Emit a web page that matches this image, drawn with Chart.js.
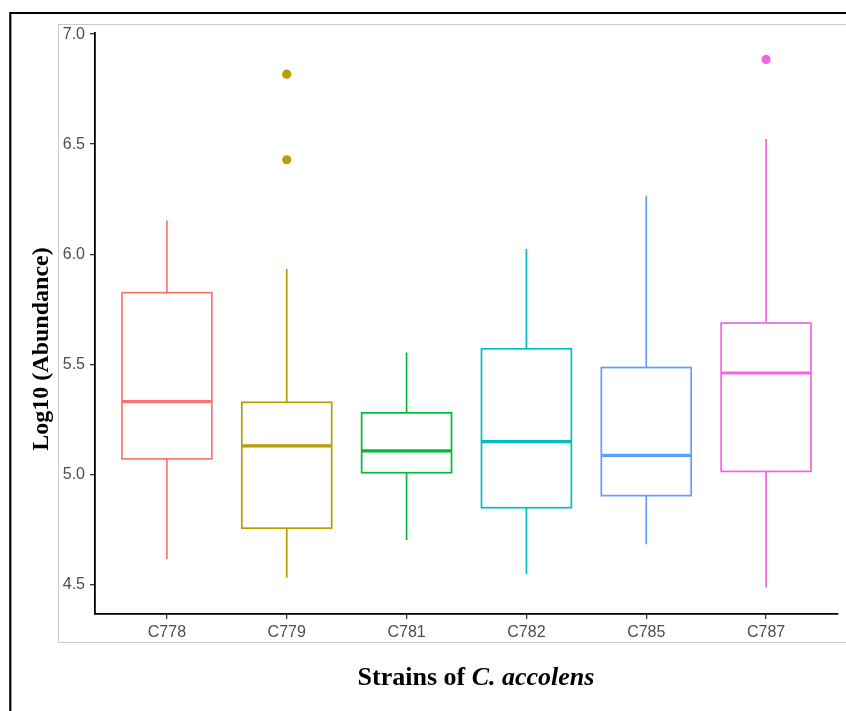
<!DOCTYPE html>
<html>
<head>
<meta charset="utf-8">
<title>Log10 (Abundance) by strain</title>
<script src="https://cdn.jsdelivr.net/npm/chart.js@4/dist/chart.umd.min.js"></script>
<style>
  html, body { margin: 0; padding: 0; background: #fff; }
  canvas { display: block; }
</style>
</head>
<body>
<canvas id="c" width="846" height="711"></canvas>
<script>
// Strains and their box-plot summaries (log10 abundance)
const categories   = ['C778', 'C779', 'C781', 'C782', 'C785', 'C787'];
const whiskerLow   = [4.614, 4.530, 4.701, 4.547, 4.682, 4.485];
const q1           = [5.070, 4.755, 5.007, 4.848, 4.903, 5.013];
const median       = [5.330, 5.129, 5.106, 5.148, 5.086, 5.460];
const q3           = [5.825, 5.327, 5.279, 5.570, 5.485, 5.687];
const whiskerHigh  = [6.153, 5.933, 5.553, 6.024, 6.265, 6.523];
const outliers     = [[], [6.818, 6.429], [], [], [], [6.885]];
const colors       = ['#F8766D', '#B79F00', '#00BA38', '#00BFC4', '#619CFF', '#F564E3'];
const yTicks       = [4.5, 5.0, 5.5, 6.0, 6.5, 7.0];

const BOX_HALF = 0.375;

// Outlier points, one colour per strain
const outlierPoints = [];
const outlierColors = [];
outliers.forEach((vals, i) => {
  vals.forEach(v => { outlierPoints.push({ x: i, y: v }); outlierColors.push(colors[i]); });
});

// Page frame and panel border behind the plot
const framePlugin = {
  id: 'frame',
  beforeDraw(chart) {
    const ctx = chart.ctx;
    ctx.save();
    ctx.fillStyle = '#fff';
    ctx.fillRect(0, 0, chart.width, chart.height);
    ctx.strokeStyle = '#000';
    ctx.lineWidth = 2.2;
    ctx.beginPath();
    ctx.moveTo(10.3, chart.height + 2);
    ctx.lineTo(10.3, 13);
    ctx.lineTo(chart.width + 2, 13);
    ctx.stroke();
    ctx.strokeStyle = '#cacaca';
    ctx.lineWidth = 1;
    ctx.strokeRect(58.5, 24.5, chart.width + 20, 618);
    ctx.restore();
  }
};

// Whiskers, boxes and medians placed through the chart's scales
const boxPlugin = {
  id: 'boxes',
  beforeDatasetsDraw(chart) {
    const ctx = chart.ctx;
    const xs = chart.scales.x, ys = chart.scales.y;
    ctx.save();
    categories.forEach((c, i) => {
      const cx = xs.getPixelForValue(i);
      const left = xs.getPixelForValue(i - BOX_HALF);
      const right = xs.getPixelForValue(i + BOX_HALF);
      const yLo = ys.getPixelForValue(whiskerLow[i]);
      const yQ1 = ys.getPixelForValue(q1[i]);
      const yMed = ys.getPixelForValue(median[i]);
      const yQ3 = ys.getPixelForValue(q3[i]);
      const yHi = ys.getPixelForValue(whiskerHigh[i]);
      ctx.strokeStyle = colors[i];
      ctx.lineCap = 'butt';
      ctx.lineWidth = 1.7;
      ctx.beginPath();
      ctx.moveTo(cx, yHi); ctx.lineTo(cx, yQ3);
      ctx.moveTo(cx, yQ1); ctx.lineTo(cx, yLo);
      ctx.stroke();
      ctx.fillStyle = '#fff';
      ctx.fillRect(left, yQ3, right - left, yQ1 - yQ3);
      ctx.strokeRect(left, yQ3, right - left, yQ1 - yQ3);
      ctx.lineWidth = 3.2;
      ctx.beginPath();
      ctx.moveTo(left, yMed); ctx.lineTo(right, yMed);
      ctx.stroke();
    });
    ctx.restore();
  }
};

// Axis titles (mixed bold / bold-italic on x)
const titlePlugin = {
  id: 'titles',
  afterDraw(chart) {
    const ctx = chart.ctx;
    ctx.save();
    ctx.fillStyle = '#000';
    ctx.textBaseline = 'alphabetic';
    const f1 = 'bold 26px "Liberation Serif", "Times New Roman", serif';
    const f2 = 'italic bold 26px "Liberation Serif", "Times New Roman", serif';
    const a = 'Strains of ', b = 'C. accolens';
    ctx.font = f1; const wa = ctx.measureText(a).width;
    ctx.font = f2; const wb = ctx.measureText(b).width;
    const x0 = 476 - (wa + wb) / 2;
    ctx.font = f1; ctx.textAlign = 'left'; ctx.fillText(a, x0, 685);
    ctx.font = f2; ctx.fillText(b, x0 + wa, 685);

    ctx.translate(48, 349);
    ctx.rotate(-Math.PI / 2);
    ctx.font = 'bold 24px "Liberation Serif", "Times New Roman", serif';
    ctx.textAlign = 'center';
    ctx.fillText('Log10 (Abundance)', 0, 0);
    ctx.restore();
  }
};

const tickFont = { family: '"Liberation Sans", Arial, sans-serif', size: 16 };

new Chart(document.getElementById('c'), {
  type: 'scatter',
  data: {
    datasets: [{
      data: outlierPoints,
      pointRadius: 4.6,
      pointBorderWidth: 0,
      pointBackgroundColor: outlierColors,
      pointBorderColor: outlierColors
    }]
  },
  options: {
    responsive: false,
    devicePixelRatio: 1,
    animation: false,
    layout: { padding: { top: 33, right: 8, left: 0, bottom: 0 } },
    plugins: { legend: { display: false }, tooltip: { enabled: false } },
    scales: {
      x: {
        type: 'linear',
        min: -0.6,
        max: categories.length - 0.4,
        afterBuildTicks(s) { s.ticks = categories.map((c, i) => ({ value: i })); },
        afterFit(s) { s.height = 97; },
        ticks: {
          callback: v => categories[v],
          color: '#4D4D4D',
          font: tickFont,
          padding: 4,
          autoSkip: false,
          maxRotation: 0
        },
        grid: { drawOnChartArea: false, drawTicks: true, tickLength: 5, color: '#333', lineWidth: 1.3 },
        border: { display: true, color: '#000', width: 1.8 }
      },
      y: {
        type: 'linear',
        min: 4.365,
        max: 7.005,
        afterBuildTicks(s) { s.ticks = yTicks.map(v => ({ value: v })); },
        afterFit(s) { s.width = 95; },
        ticks: {
          callback: v => Number(v).toFixed(1),
          color: '#4D4D4D',
          font: tickFont,
          padding: 5
        },
        grid: { drawOnChartArea: false, drawTicks: true, tickLength: 5, color: '#333', lineWidth: 1.3 },
        border: { display: true, color: '#000', width: 1.8 }
      }
    }
  },
  plugins: [framePlugin, boxPlugin, titlePlugin]
});
</script>
</body>
</html>
